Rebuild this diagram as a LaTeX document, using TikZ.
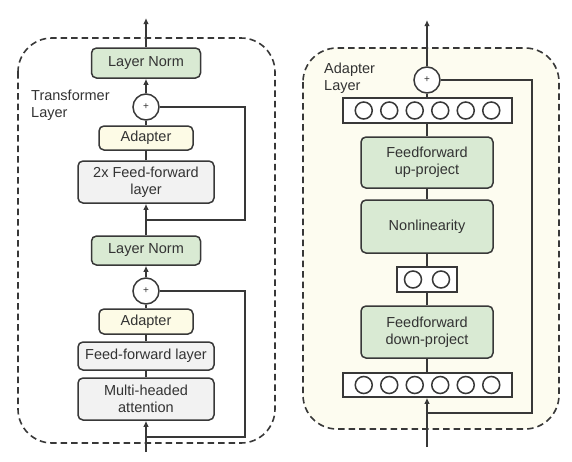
\documentclass[tikz,border=0pt]{standalone}
\usepackage{fontspec}
\setmainfont{Liberation Sans}
\usetikzlibrary{arrows.meta}
\definecolor{bordc}{HTML}{383838}
\definecolor{txtc}{HTML}{333333}
\definecolor{greenf}{HTML}{D9EAD3}
\definecolor{yellowf}{HTML}{FDFBE6}
\definecolor{grayf}{HTML}{F2F2F2}
\definecolor{bgf}{HTML}{FDFCF0}
\begin{document}
\begin{tikzpicture}[x=1pt,y=-1pt,
  box/.style={draw=bordc, line width=1.5pt, rounded corners=5pt, text=txtc,
    font=\fontsize{14.5}{17}\selectfont, align=center, inner sep=0pt},
  gbox/.style={box, fill=greenf},
  ybox/.style={box, fill=yellowf},
  wbox/.style={box, fill=grayf},
  plusc/.style={draw=bordc, line width=1.5pt, circle, fill=white, minimum size=26pt,
    inner sep=0pt, text=txtc, font=\fontsize{10}{10}\selectfont},
  nbox/.style={draw=bordc, line width=1.5pt, fill=white, inner sep=0pt},
  conn/.style={draw=bordc, line width=1.5pt},
  arr/.style={conn, -{Latex[length=6pt,width=5.5pt]}},
  dashbox/.style={draw=bordc, line width=1.6pt, dash pattern=on 6.5pt off 4pt, rounded corners=34pt},
  lbl/.style={text=txtc, font=\fontsize{14.5}{17}\selectfont, align=left, inner sep=0pt, anchor=west}
]
\useasboundingbox (0,0) rectangle (572,461);

% ---------- left panel ----------
\draw[dashbox] (18,38) rectangle (275,443);
\node[lbl] (tl) at (31,105) {Transformer\\Layer};

\node[gbox, minimum width=109pt, minimum height=30pt] (ln1) at (146,63) {Layer Norm};
\node[plusc] (plus1) at (146,107) {+};
\node[ybox, minimum width=94pt, minimum height=24pt] (ad1) at (146,138) {Adapter};
\node[wbox, minimum width=136pt, minimum height=42pt] (ff2x) at (146,182) {2x Feed-forward\\layer};
\node[gbox, minimum width=109pt, minimum height=29pt] (ln2) at (146,250.5) {Layer Norm};
\node[plusc] (plus2) at (146,291) {+};
\node[ybox, minimum width=94pt, minimum height=25pt] (ad2) at (146,321.5) {Adapter};
\node[wbox, minimum width=136pt, minimum height=28pt] (ff1) at (146,356) {Feed-forward layer};
\node[wbox, minimum width=136pt, minimum height=42pt] (mha) at (146,399) {Multi-headed\\attention};

\coordinate (outL) at (146,18);
\coordinate (inL) at (146,452);
\coordinate (j1) at (146,220);
\coordinate (c1) at (245,220);
\coordinate (j2) at (146,437);
\coordinate (c2) at (245,437);

\draw[arr] (ln1.north) -- (outL);
\draw[arr] (plus1.north) -- (ln1.south);
\draw[conn] (ad1.north) -- (plus1.south);
\draw[conn] (ff2x.north) -- (ad1.south);
\draw[arr] (ln2.north) -- (ff2x.south);
\draw[conn] (j1) -- (c1) |- (plus1.east);
\draw[arr] (plus2.north) -- (ln2.south);
\draw[conn] (ad2.north) -- (plus2.south);
\draw[conn] (ff1.north) -- (ad2.south);
\draw[conn] (mha.north) -- (ff1.south);
\draw[arr] (inL) -- (mha.south);
\draw[conn] (j2) -- (c2) |- (plus2.east);

% ---------- right panel ----------
\draw[dashbox, fill=bgf] (303,48) rectangle (559,429);
\node[lbl] (al) at (324,78) {Adapter\\Layer};

\node[plusc] (plusR) at (427,80) {+};
\node[nbox, minimum width=169pt, minimum height=25pt] (topN) at (427.5,110.5) {};
\node[gbox, minimum width=132pt, minimum height=51pt] (up) at (427,162.5) {Feedforward\\up-project};
\node[gbox, minimum width=132pt, minimum height=53pt] (nonlin) at (427,226.5) {Nonlinearity};
\node[nbox, minimum width=60pt, minimum height=25pt] (smallN) at (427,279.5) {};
\node[gbox, minimum width=132pt, minimum height=52pt] (down) at (427,332) {Feedforward\\down-project};
\node[nbox, minimum width=169pt, minimum height=24pt] (botN) at (427.5,385) {};

\foreach \dx in {-63.75,-38.25,-12.75,12.75,38.25,63.75}{
  \draw[conn] (427.5+\dx,110.5) circle (8.5pt);
  \draw[conn] (427.5+\dx,385) circle (8.5pt);
}
\foreach \dx in {-14,14}{
  \draw[conn] (427+\dx,279.5) circle (8.5pt);
}

\coordinate (outR) at (427,20);
\coordinate (inR) at (427,447);
\coordinate (jR) at (427,413);
\coordinate (cR) at (532,413);

\draw[arr] (plusR.north) -- (outR);
\draw[conn] (topN.north -| plusR) -- (plusR.south);
\draw[conn] (up.north) -- (topN.south -| up);
\draw[conn] (nonlin.north) -- (up.south);
\draw[conn] (smallN.north) -- (nonlin.south);
\draw[conn] (down.north) -- (smallN.south);
\draw[conn] (botN.north -| down) -- (down.south);
\draw[arr] (inR) -- (botN.south -| inR);
\draw[conn] (jR) -- (cR) |- (plusR.east);
\end{tikzpicture}
\end{document}
